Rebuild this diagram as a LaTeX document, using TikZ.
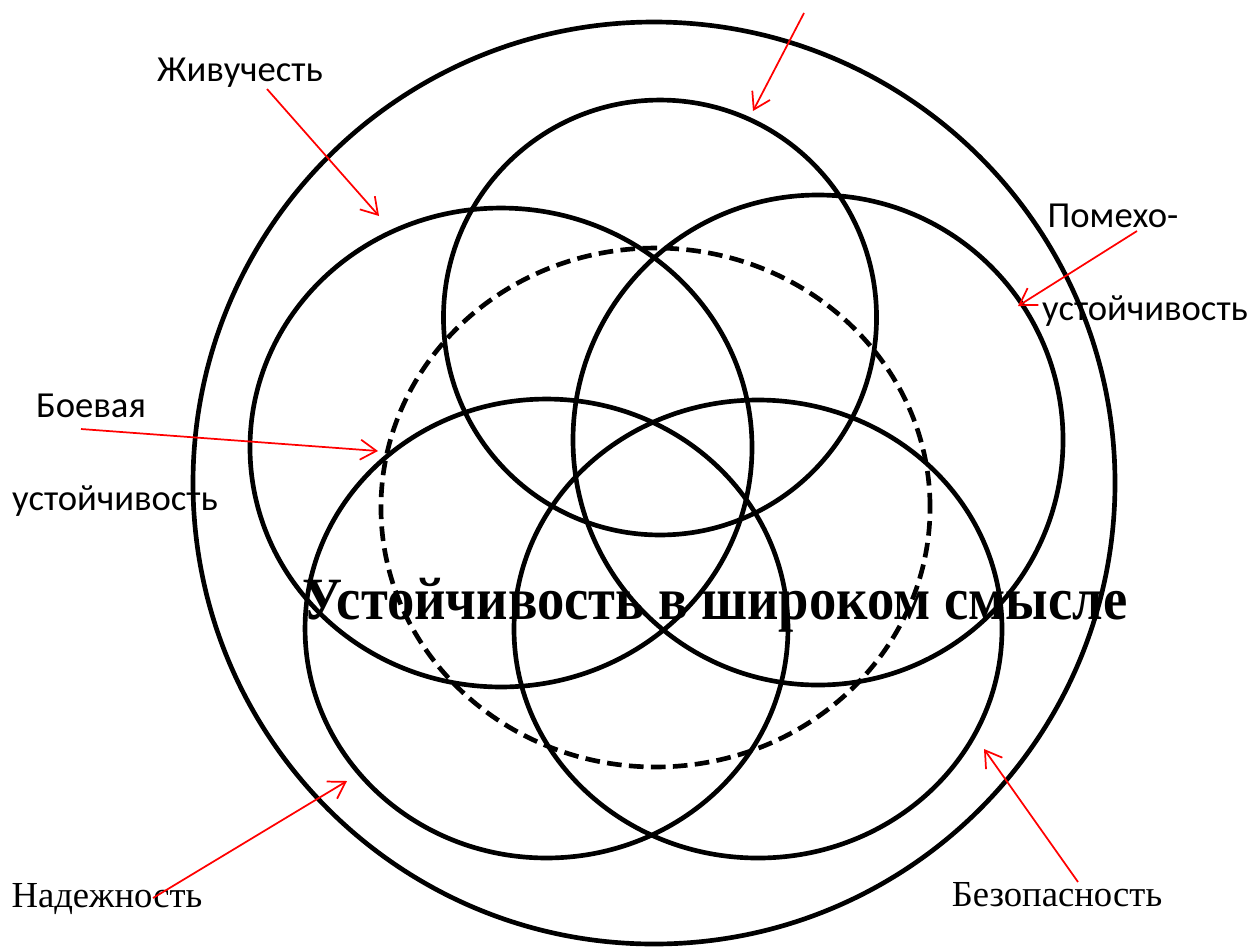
\documentclass[tikz,border=0pt]{standalone}
\usepackage{fontspec}
\setmainfont{Liberation Serif}
\newfontfamily\calfont{Carlito}
\usetikzlibrary{arrows.meta}
\begin{document}
\begin{tikzpicture}[x=0.75pt,y=-0.75pt,
  ring/.style={draw=black,line width=3.5pt},
  dring/.style={draw=black,line width=3.5pt,dash pattern=on 11pt off 5.5pt},
  pointer/.style={draw=red,line width=1.3pt,-{Straight Barb[length=12pt,width=15pt,line width=1.3pt]}},
  sanslabel/.style={font=\calfont\fontsize{27.5}{33}\selectfont,inner sep=0pt,anchor=base},
  seriflabel/.style={font=\fontsize{27.5}{33}\selectfont,inner sep=0pt,anchor=base}]
\useasboundingbox (0,0) rectangle (1251,947);
% circles
\draw[ring] (654,483) circle [radius=345.75pt];
\draw[ring] (660,317.5) ellipse [x radius=162.4pt, y radius=163.1pt];
\draw[ring] (501,447.5) ellipse [x radius=188.25pt, y radius=179.6pt];
\draw[ring] (818,440) ellipse [x radius=183.75pt, y radius=183.75pt];
\draw[ring] (546.5,628.5) ellipse [x radius=181.1pt, y radius=172.1pt];
\draw[ring] (758,629) ellipse [x radius=183pt, y radius=171.75pt];
\draw[dring] (655.5,507.5) ellipse [x radius=205.9pt, y radius=194.6pt];
% main title
\node[inner sep=0pt] (title) at (715,605) {\scalebox{0.91}[1]{\fontsize{45}{52}\selectfont\bfseries Устойчивость в широком смысле}};
% labels
\node[sanslabel] (zhiv) at (240,81) {Живучесть};
\node[sanslabel] (pom1) at (1113,227) {Помехо-};
\node[sanslabel] (pom2) at (1145,320) {устойчивость};
\node[sanslabel] (boe1) at (91,417) {Боевая};
\node[sanslabel] (boe2) at (115,510) {устойчивость};
\node[seriflabel] (nad) at (107,907) {Надежность};
\node[seriflabel] (bez) at (1057,906) {Безопасность};
% arrow endpoints
\coordinate (t0) at (804,13);   \coordinate (t1) at (753,111);
\coordinate (z0) at (267,89);   \coordinate (z1) at (379,216);
\coordinate (p0) at (1137,231); \coordinate (p1) at (1018,306);
\coordinate (b0) at (81,429);   \coordinate (b1) at (378,451);
\coordinate (n0) at (153,898);  \coordinate (n1) at (347,781);
\coordinate (s0) at (1078,882); \coordinate (s1) at (984,749);
\draw[pointer] (t0) -- (t1);
\draw[pointer] (z0) -- (z1);
\draw[pointer] (p0) -- (p1);
\draw[pointer] (b0) -- (b1);
\draw[pointer] (n0) -- (n1);
\draw[pointer] (s0) -- (s1);
\end{tikzpicture}
\end{document}
